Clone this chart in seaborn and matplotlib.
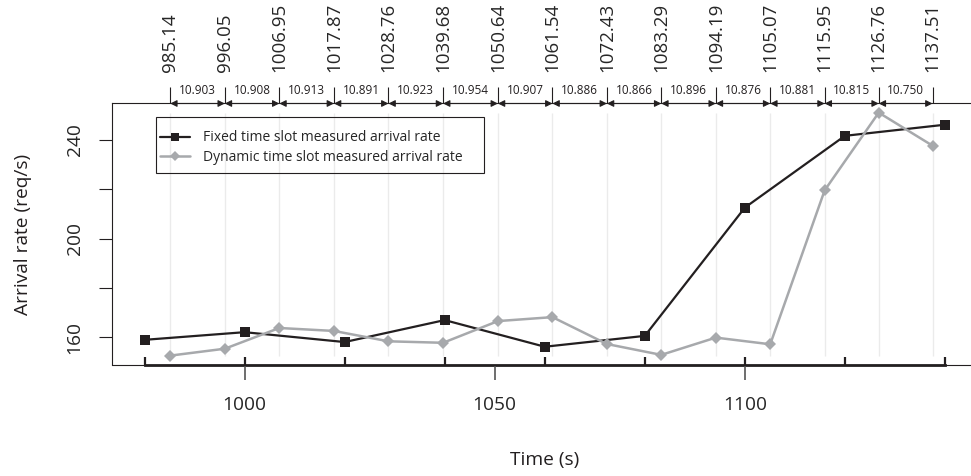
import matplotlib
matplotlib.use("Agg")
import matplotlib.pyplot as plt
import seaborn as sns
from matplotlib.patches import Rectangle
from matplotlib.transforms import blended_transform_factory

# fixed 20 s slots
fixed_time = [980, 1000, 1020, 1040, 1060, 1080, 1100, 1120, 1140]
fixed_rate = [159.0, 162.1, 158.1, 167.0, 156.2, 160.6, 212.6, 241.7, 246.2]

# dynamic slots (slot end times)
dyn_time = [985.14, 996.05, 1006.95, 1017.87, 1028.76, 1039.68, 1050.64, 1061.54,
            1072.43, 1083.29, 1094.19, 1105.07, 1115.95, 1126.76, 1137.51]
dyn_rate = [152.6, 155.4, 163.8, 162.6, 158.4, 157.8, 166.6, 168.2,
            157.3, 152.9, 159.9, 157.2, 219.6, 251.1, 237.7]

# slot lengths shown between the dynamic boundaries
slot_len = ["10.903", "10.908", "10.913", "10.891", "10.923", "10.954", "10.907",
            "10.886", "10.866", "10.896", "10.876", "10.881", "10.815", "10.750"]

y_ticks = [160, 180, 200, 220, 240]
y_labels = ["160", "", "200", "", "240"]
x_ticks = [1000, 1050, 1100]

BLACK = "#231f20"
GREY = "#a7a9ac"

sns.set_theme(style="white")
plt.rcParams["font.family"] = ["Open Sans", "DejaVu Sans"]

fig = plt.figure(figsize=(9.71, 4.76), dpi=100)
ax = fig.add_axes([112 / 971, 111.5 / 476, 865 / 971, 261 / 476])

ax.vlines(dyn_time, min(dyn_rate), max(dyn_rate), color="#ebebeb", lw=1, zorder=0)

sns.lineplot(x=fixed_time, y=fixed_rate, ax=ax, color=BLACK, lw=1.6, marker="s",
             markersize=6.5, markeredgewidth=0,
             label="Fixed time slot measured arrival rate")
sns.lineplot(x=dyn_time, y=dyn_rate, ax=ax, color=GREY, lw=1.8, marker="D",
             markersize=6.5, markeredgewidth=0,
             label="Dynamic time slot measured arrival rate")

ax.set_xlim(973.5, 1146.4)
ax.set_ylim(149.0, 254.8)

for s in ax.spines.values():
    s.set_color(BLACK)
    s.set_linewidth(0.8)

ax.set_yticks(y_ticks, labels=y_labels)
ax.tick_params(axis="y", direction="out", length=9.5, width=0.8, color=BLACK,
               pad=11, labelsize=13.8, labelrotation=90, left=True)
for t in ax.get_yticklabels():
    t.set_va("center")

ax.set_xticks(x_ticks)
ax.tick_params(axis="x", direction="out", length=10.5, width=1.2, color="#555555",
               pad=12, labelsize=13.8, bottom=True)

# thick axis segment with inward ticks at the fixed slots
sec_b = ax.secondary_xaxis("bottom")
sec_b.set_xticks(fixed_time)
sec_b.tick_params(direction="in", length=5.8, width=1.6, color=BLACK, labelbottom=False)
sec_b.spines["bottom"].set_bounds(fixed_time[0], fixed_time[-1])
sec_b.spines["bottom"].set_linewidth(2)
sec_b.spines["bottom"].set_color(BLACK)

# dynamic slot boundaries on top
sec_t = ax.secondary_xaxis("top")
sec_t.set_xticks(dyn_time, labels=[f"{t:.2f}" for t in dyn_time])
sec_t.tick_params(direction="out", length=11.5, width=0.8, color=BLACK, pad=11.5,
                  labelsize=13.5, labelrotation=90)
sec_t.spines["top"].set_visible(False)

trans = blended_transform_factory(ax.transData, ax.transAxes)
for i, lab in enumerate(slot_len):
    ax.annotate("", xy=(dyn_time[i + 1], 1.0), xytext=(dyn_time[i], 1.0),
                xycoords=trans, textcoords=trans, annotation_clip=False,
                arrowprops=dict(arrowstyle="<|-|>,head_length=0.4,head_width=0.2",
                                color=BLACK, lw=0.8, shrinkA=0, shrinkB=0,
                                mutation_scale=10))
    ax.text((dyn_time[i] + dyn_time[i + 1]) / 2, 1.048, lab, transform=trans,
            ha="center", va="center", fontsize=8.5, color=BLACK, clip_on=False)

ax.set_xlabel("Time (s)", fontsize=13.8, color=BLACK)
ax.xaxis.set_label_coords(0.5, -0.33)
ax.set_ylabel("Arrival rate (req/s)", fontsize=13.8, color=BLACK)
ax.yaxis.set_label_coords(-0.093, 0.5)

ax.legend(loc="upper left", bbox_to_anchor=(0.0555, 0.897), frameon=False,
          borderpad=0, borderaxespad=0, handlelength=2.15, handletextpad=0.95,
          labelspacing=0.35, fontsize=10, markerscale=0.8)
ax.add_patch(Rectangle((0.0505, 0.7349), 0.3795, 0.2146, transform=ax.transAxes,
                       fill=False, ec=BLACK, lw=0.8))

fig.savefig("out.png", dpi=100)
